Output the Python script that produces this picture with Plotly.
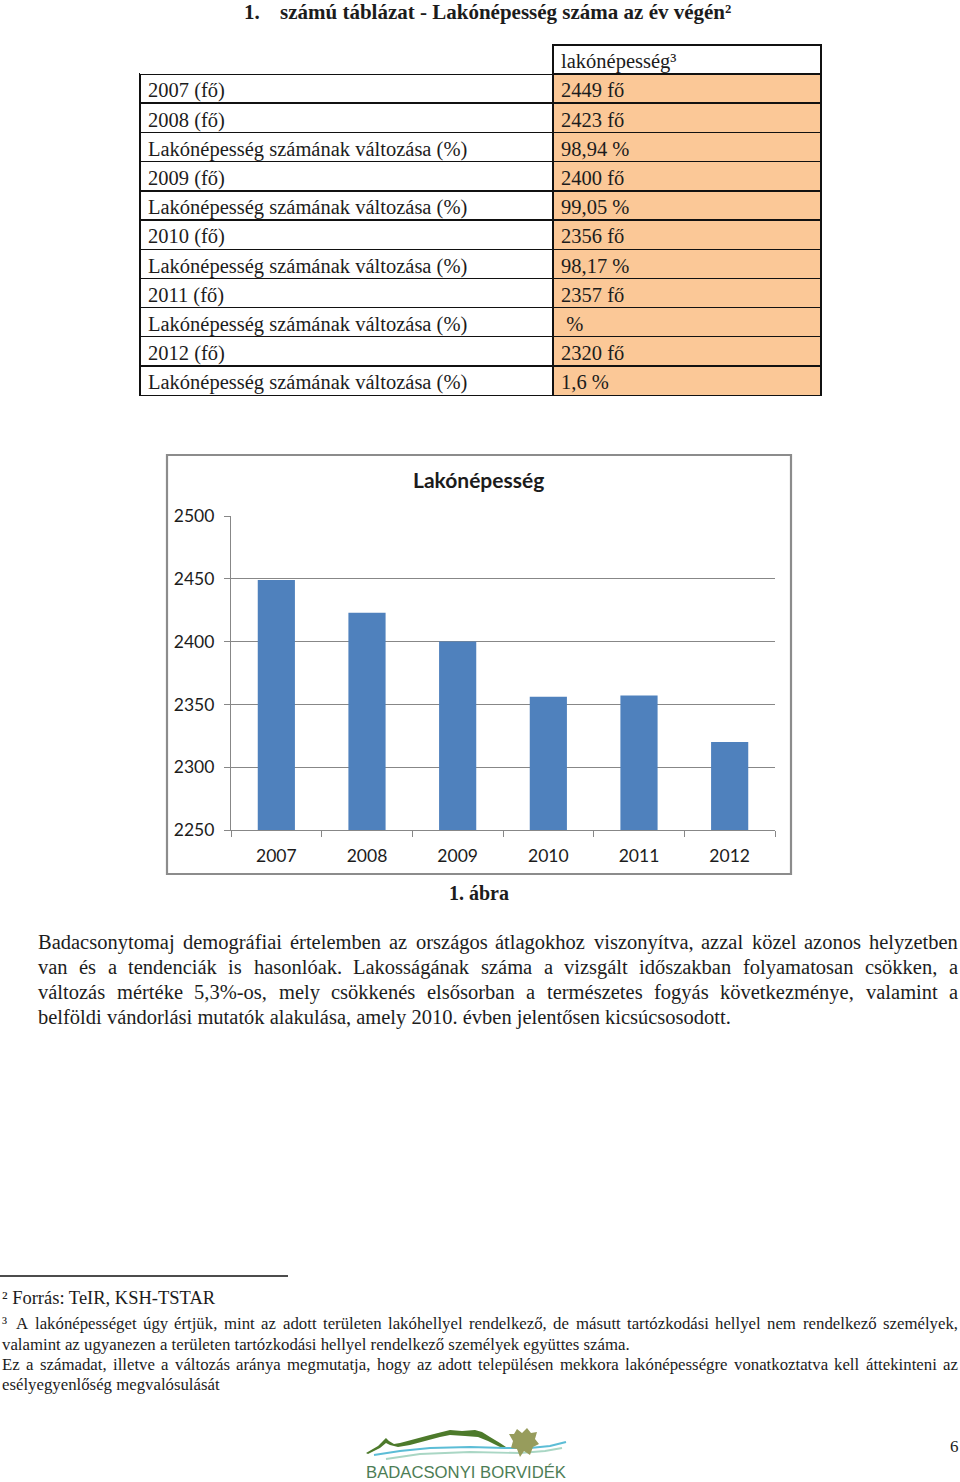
import plotly.graph_objects as go

W, H = 960, 1482

# ---------------- data ----------------
years = ['2007', '2008', '2009', '2010', '2011', '2012']
population = [2449, 2423, 2400, 2356, 2357, 2320]
y_ticks = [2250, 2300, 2350, 2400, 2450, 2500]

table_header = ['', 'lakónépesség³']
row_labels = ['2007 (fő)', '2008 (fő)', 'Lakónépesség számának változása (%)',
              '2009 (fő)', 'Lakónépesség számának változása (%)',
              '2010 (fő)', 'Lakónépesség számának változása (%)',
              '2011 (fő)', 'Lakónépesség számának változása (%)',
              '2012 (fő)', 'Lakónépesség számának változása (%)']
row_values = ['2449 fő', '2423 fő', '98,94 %', '2400 fő', '99,05 %', '2356 fő',
              '98,17 %', '2357 fő', '\u00a0%', '2320 fő', '1,6 %']

title_text = 'számú táblázat - Lakónépesség száma az év végén²'
chart_title = 'Lakónépesség'
caption = '1. ábra'
para_lines = [
    'Badacsonytomaj demográfiai értelemben az országos átlagokhoz viszonyítva, azzal közel azonos helyzetben',
    'van és a tendenciák is hasonlóak. Lakosságának száma a vizsgált időszakban folyamatosan csökken, a',
    'változás mértéke 5,3%-os, mely csökkenés elsősorban a természetes fogyás következménye, valamint a',
    'belföldi vándorlási mutatók alakulása, amely 2010. évben jelentősen kicsúcsosodott.',
]
fn2 = 'Forrás: TeIR, KSH-TSTAR'
fn3_lines = [
    'A lakónépességet úgy értjük, mint az adott területen lakóhellyel rendelkező, de másutt tartózkodási hellyel nem rendelkező személyek,',
    'valamint az ugyanezen a területen tartózkodási hellyel rendelkező személyek együttes száma.',
    'Ez a számadat, illetve a változás aránya megmutatja, hogy az adott településen mekkora lakónépességre vonatkoztatva kell áttekinteni az',
    'esélyegyenlőség megvalósulását',
]
logo_text = 'BADACSONYI BORVIDÉK'
page_no = '6'

# ---------------- helpers ----------------
def fx(x):
    return x / W

def fy(y):
    return 1 - y / H

SERIF = 'Liberation Serif'
SANS = 'Lato'
INK = '#1c1c1c'

# Times-compatible advance widths (per 1000 em) used for justification
_w = {' ': 250, 'a': 444, 'b': 500, 'c': 444, 'd': 500, 'e': 444, 'f': 333, 'g': 500,
      'h': 500, 'i': 278, 'j': 278, 'k': 500, 'l': 278, 'm': 778, 'n': 500, 'o': 500,
      'p': 500, 'q': 500, 'r': 333, 's': 389, 't': 278, 'u': 500, 'v': 500, 'w': 722,
      'x': 500, 'y': 500, 'z': 444, 'A': 722, 'B': 667, 'C': 667, 'D': 722, 'E': 611,
      'F': 556, 'G': 722, 'H': 722, 'I': 333, 'J': 389, 'K': 722, 'L': 611, 'M': 889,
      'N': 722, 'O': 722, 'P': 556, 'Q': 722, 'R': 667, 'S': 556, 'T': 611, 'U': 722,
      'V': 722, 'W': 944, 'X': 722, 'Y': 722, 'Z': 611, '.': 250, ',': 250, '%': 833,
      '-': 333, '(': 333, ')': 333, ':': 278}
_acc = {'á': 'a', 'é': 'e', 'í': 'i', 'ó': 'o', 'ö': 'o', 'ő': 'o', 'ú': 'u', 'ü': 'u', 'ű': 'u'}

def tw(s, size):
    tot = 0
    for ch in s:
        ch = _acc.get(ch, ch)
        tot += _w.get(ch, 500)
    return tot * size / 1000.0

annotations = []
shapes = []

def ann(text, x, y, size, family=SERIF, xanchor='left', bold=False, color=INK):
    annotations.append(dict(
        text=('<b>%s</b>' % text) if bold else text, x=fx(x), y=fy(y),
        xref='paper', yref='paper', xanchor=xanchor, yanchor='middle',
        showarrow=False, borderpad=0, font=dict(family=family, size=size, color=color)))

def justified(line, left, right, y, size):
    words = line.split(' ')
    widths = [tw(wd, size) for wd in words]
    gap = (right - left - sum(widths)) / (len(words) - 1)
    x = left
    for i, wd in enumerate(words):
        ann(wd, x, y, size)
        x += widths[i] + gap

fig = go.Figure()

# ---------------- table ----------------
fig.add_trace(go.Table(
    domain=dict(x=[fx(140), fx(821)], y=[fy(420), fy(45)]),
    columnwidth=[413, 268],
    header=dict(values=table_header, align='left', height=29,
                fill=dict(color=['white', 'white']),
                line=dict(color=['white', '#111111'], width=[0, 1.4]),
                font=dict(family=SERIF, size=20.5, color=INK)),
    cells=dict(values=[row_labels, row_values], align='left', height=29.2,
               fill=dict(color=['white', '#FBC897']),
               line=dict(color='#111111', width=1.4),
               font=dict(family=SERIF, size=20.5, color=INK)),
))

# ---------------- bar chart ----------------
fig.add_trace(go.Bar(x=years, y=population, marker=dict(color='#4F81BD', line=dict(width=0)),
                     hoverinfo='x+y'))

GRAY = '#878787'
fig.update_xaxes(domain=[fx(231), fx(775)], type='category', showline=True, linecolor=GRAY,
                 linewidth=1.2, ticks='outside', tickson='boundaries', ticklen=6,
                 tickcolor=GRAY, tickwidth=1.2, showgrid=False, ticklabelstandoff=10,
                 automargin=False, tickfont=dict(family=SANS, size=17.5, color=INK))
fig.update_yaxes(domain=[fy(830), fy(516)], range=[y_ticks[0], y_ticks[-1]], tickvals=y_ticks,
                 showline=True, linecolor=GRAY, linewidth=1.2, ticks='outside', ticklen=6,
                 tickcolor=GRAY, tickwidth=1.2, showgrid=True, gridcolor=GRAY, gridwidth=1.2,
                 zeroline=False, ticklabelstandoff=6, automargin=False,
                 tickfont=dict(family=SANS, size=17.5, color=INK))

# chart frame
shapes.append(dict(type='rect', xref='paper', yref='paper', x0=fx(167), x1=fx(791),
                   y0=fy(874), y1=fy(455), line=dict(color='#8c8c8c', width=2.2),
                   fillcolor='rgba(0,0,0,0)', layer='below'))
ann(chart_title, 478, 480, 21, family=SANS, xanchor='center', bold=True)
ann(caption, 479, 893, 20, xanchor='center', bold=True)

# ---------------- page title ----------------
ann('1.', 243, 12, 21, bold=True)
ann(title_text, 279, 12, 21, bold=True)

# ---------------- paragraph ----------------
para_y = [942, 967, 992, 1017]
for i, line in enumerate(para_lines):
    if i < 3:
        justified(line, 37, 957, para_y[i], 20.5)
    else:
        ann(line, 37, para_y[i], 20.5)

# ---------------- footnotes ----------------
shapes.append(dict(type='line', xref='paper', yref='paper', x0=fx(0), x1=fx(288),
                   y0=fy(1276), y1=fy(1276), line=dict(color='#111111', width=1.3)))
ann('² ' + fn2, 1, 1298, 18.5)
ann('³', 1, 1322, 16.8)
justified(fn3_lines[0], 15, 957, 1323, 16.8)
ann(fn3_lines[1], 1, 1344, 16.8)
justified(fn3_lines[2], 1, 957, 1364, 16.8)
ann(fn3_lines[3], 1, 1384, 16.8)

# ---------------- logo + page number ----------------
def poly(points, fill=None, line_color=None, width=0, closed=True):
    d = 'M ' + ' L '.join('%.5f,%.5f' % (fx(x), fy(y)) for x, y in points)
    if closed:
        d += ' Z'
    shapes.append(dict(type='path', xref='paper', yref='paper', path=d,
                       fillcolor=fill if fill else 'rgba(0,0,0,0)',
                       line=dict(color=line_color if line_color else 'rgba(0,0,0,0)',
                                 width=width)))

hill = [(366, 1453), (378, 1446), (383, 1441), (386, 1438), (389, 1441), (394, 1444),
        (400, 1443), (415, 1439), (430, 1435), (442, 1432), (450, 1430), (462, 1431),
        (475, 1430), (482, 1432), (490, 1437), (500, 1443), (506, 1447),
        (500, 1447), (488, 1441), (478, 1437), (465, 1436), (450, 1435), (440, 1437),
        (425, 1441), (410, 1445), (398, 1447), (390, 1445), (386, 1443), (380, 1448),
        (368, 1454)]
poly(hill, fill='#4d7a2b')
poly([(374, 1455), (400, 1451), (430, 1448), (470, 1447), (505, 1448), (530, 1448),
      (550, 1446), (566, 1442)], line_color='#5cbdd6', width=2.2, closed=False)
poly([(386, 1459), (420, 1454), (470, 1452), (520, 1453), (545, 1451), (562, 1448)],
     line_color='#a9d6c4', width=1.8, closed=False)
poly([(509, 1434), (514, 1434), (517, 1429), (522, 1433), (527, 1428), (531, 1433),
      (537, 1432), (535, 1439), (539, 1444), (533, 1447), (530, 1455), (524, 1451),
      (520, 1457), (517, 1449), (511, 1448), (513, 1441)], fill='#979c5c')
ann(logo_text, 466, 1472, 16.7, family='Liberation Sans', xanchor='center', color='#4d7d55')
ann(page_no, 954, 1446, 17, xanchor='center')

fig.update_layout(width=W, height=H, margin=dict(l=0, r=0, t=0, b=0, autoexpand=False),
                  paper_bgcolor='white', plot_bgcolor='white', showlegend=False,
                  bargap=0.59, annotations=annotations, shapes=shapes)

fig.write_html('out.html')
